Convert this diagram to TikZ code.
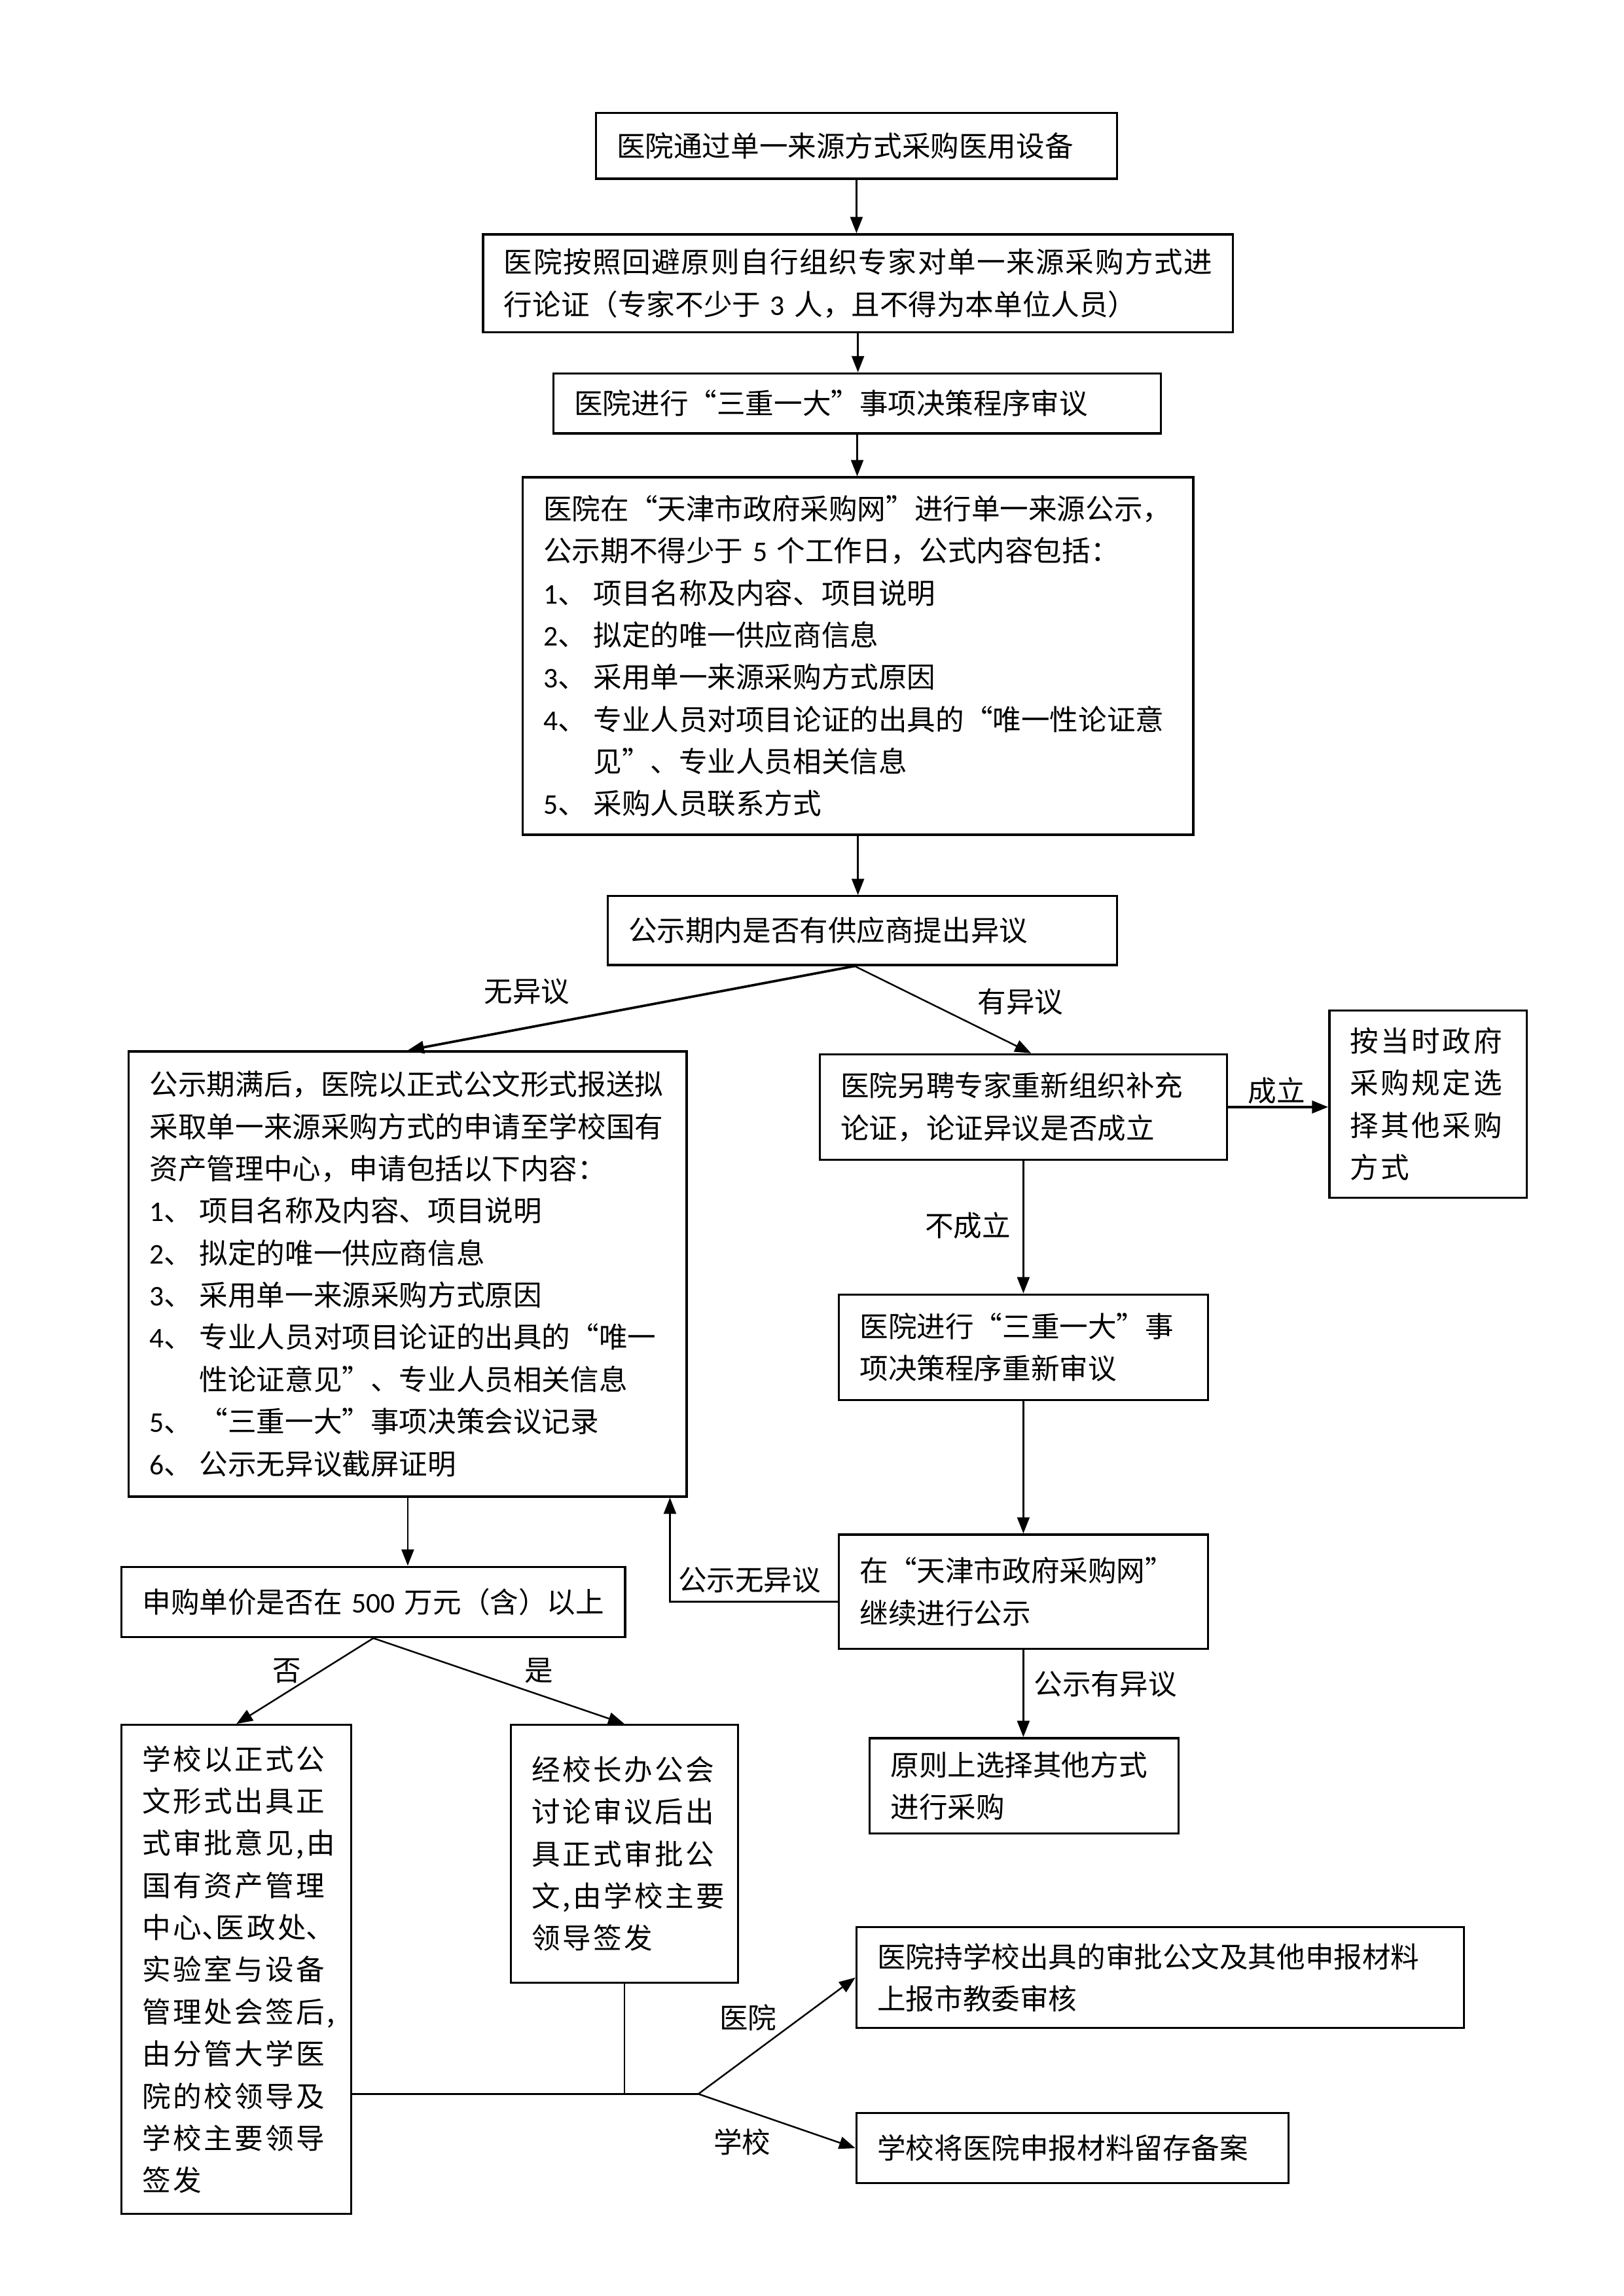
\documentclass[tikz,border=0pt]{standalone}
\usepackage{fontspec}
\setmainfont{Noto Sans CJK SC}
\newfontfamily\latfont{Carlito}
\newfontfamily\widecjk[LetterSpace=8]{Noto Sans CJK SC}
\newfontfamily\justcjk[LetterSpace=3.6]{Noto Sans CJK SC}
\usetikzlibrary{arrows.meta,calc}

\newcommand\nm[1]{{\latfont #1}}
\newcommand\itm[1]{\makebox[0.644cm][l]{\nm{#1}、}}
\newcommand\fbfont{\fontsize{10.5pt}{15.5pt}\selectfont}

\newlength\bw \newlength\bh \newlength\tw
\newcommand\flowbox[7][]{%
  \pgfmathsetlength\bw{(#5-#3)*0.018936cm}%
  \pgfmathsetlength\bh{(#6-#4)*0.018936cm}%
  \pgfmathsetlength\tw{\bw-0.54cm}%
  \node[box, minimum width=\bw, minimum height=\bh, text width=\tw, #1] (#2) at ({(#3+#5)/2},{(#4+#6)/2}) {#7};}

\tikzset{
  box/.style={draw, line width=0.8pt, inner xsep=0.27cm, inner ysep=0pt, align=left, font=\fbfont},
  widebox/.style={font=\widecjk\fbfont},
  lbl/.style={inner sep=0pt, font=\fbfont},
  arr/.style={draw, line width=0.6pt, -{Triangle[length=2.1mm,width=1.6mm]}},
  thk/.style={line width=0.9pt},
  ln/.style={draw, line width=0.6pt}
}

\begin{document}
\begin{tikzpicture}[x=0.018936cm, y=-0.018936cm]
\useasboundingbox (0,0) rectangle (1109,1568);

\flowbox{b1}{407}{77}{763}{122}{医院通过单一来源方式采购医用设备}
\flowbox{b2}{330}{160}{842}{227}{{\justcjk 医院按照回避原则自行组织专家对单一来源采购方式进}\\行论证（专家不少于 \nm{3} 人，且不得为本单位人员）}
\flowbox{b3}{378}{255}{793}{296}{医院进行“三重一大”事项决策程序审议}
\flowbox{b4}{357}{326}{815}{570}{医院在“天津市政府采购网”进行单一来源公示，\\公示期不得少于 \nm{5} 个工作日，公式内容包括：\\\itm{1}项目名称及内容、项目说明\\\itm{2}拟定的唯一供应商信息\\\itm{3}采用单一来源采购方式原因\\\itm{4}专业人员对项目论证的出具的“唯一性论证意\\\hspace*{0.644cm}见”、专业人员相关信息\\\itm{5}采购人员联系方式}
\flowbox{b5}{415}{612}{763}{659}{公示期内是否有供应商提出异议}
\flowbox{b6}{88}{718}{469}{1022}{公示期满后，医院以正式公文形式报送拟\\采取单一来源采购方式的申请至学校国有\\资产管理中心，申请包括以下内容：\\\itm{1}项目名称及内容、项目说明\\\itm{2}拟定的唯一供应商信息\\\itm{3}采用单一来源采购方式原因\\\itm{4}专业人员对项目论证的出具的“唯一\\\hspace*{0.644cm}性论证意见”、专业人员相关信息\\\itm{5}“三重一大”事项决策会议记录\\\itm{6}公示无异议截屏证明}
\flowbox{b7}{560}{720}{838}{792}{医院另聘专家重新组织补充\\论证，论证异议是否成立}
\flowbox[widebox]{b8}{908}{690}{1043}{818}{按当时政府\\采购规定选\\择其他采购\\方式}
\flowbox{b9}{573}{884}{825}{956}{医院进行“三重一大”事\\项决策程序重新审议}
\flowbox{b10}{573}{1048}{825}{1126}{在“天津市政府采购网”\\继续进行公示}
\flowbox{b11}{594}{1187}{805}{1252}{原则上选择其他方式\\进行采购}
\flowbox{b12}{83}{1070}{427}{1118}{申购单价是否在 \nm{500} 万元（含）以上}
\flowbox[widebox]{b13}{83}{1178}{240}{1512}{学校以正式公\\文形式出具正\\式审批意见,由\\国有资产管理\\中心\makebox[0.5em][l]{、}医政处\makebox[0.5em][l]{、}\\实验室与设备\\管理处会签后,\\由分管大学医\\院的校领导及\\学校主要领导\\签发}
\flowbox[widebox]{b14}{349}{1178}{504}{1354}{经校长办公会\\讨论审议后出\\具正式审批公\\文,由学校主要\\领导签发}
\flowbox{b15}{585}{1316}{1000}{1385}{医院持学校出具的审批公文及其他申报材料\\上报市教委审核}
\flowbox{b16}{585}{1443}{880}{1491}{学校将医院申报材料留存备案}

% labels
\node[lbl] (l1) at (360,677) {无异议};
\node[lbl] (l2) at (697,684) {有异议};
\node[lbl] (l3) at (872,745) {成立};
\node[lbl] (l4) at (661,837) {不成立};
\node[lbl] (l5) at (512,1079) {公示无异议};
\node[lbl] (l6) at (755,1150) {公示有异议};
\node[lbl] (l7) at (196,1141) {否};
\node[lbl] (l8) at (368,1141) {是};
\node[lbl] (l9) at (511,1378) {医院};
\node[lbl] (l10) at (507,1463) {学校};

% connectors
\draw[arr] (b1.south) -- (b1.south |- b2.north);
\draw[arr] (b2.south) -- (b2.south |- b3.north);
\draw[arr] (b3.south) -- (b3.south |- b4.north);
\draw[arr] (b4.south) -- (b4.south |- b5.north);
\draw[arr, thk] ([xshift=-0.1cm]b5.south) -- (b6.north);
\draw[arr] ([xshift=-0.1cm]b5.south) -- ([xshift=0.1cm]b7.north);
\draw[arr, thk] (b7.east) -- (b7.east -| b8.west);
\draw[arr] (b7.south) -- (b7.south |- b9.north);
\draw[arr] (b9.south) -- (b9.south |- b10.north);
\draw[arr] ([yshift=-0.13cm]b10.west) -| ([xshift=-0.23cm]b6.south east);
\draw[arr] (b10.south) -- (b10.south |- b11.north);
\draw[arr] (b6.south) -- (b6.south |- b12.north);
\draw[arr] (b12.south) -- (b13.north);
\draw[arr] (b12.south) -- (b14.north);
\coordinate (j) at (477,1430);
\draw[ln] (b13.east |- j) -- (j);
\draw[ln] (b14.south) -- (b14.south |- j);
\draw[arr] (j) -- (b15.west);
\draw[arr] (j) -- (b16.west);
\end{tikzpicture}
\end{document}
